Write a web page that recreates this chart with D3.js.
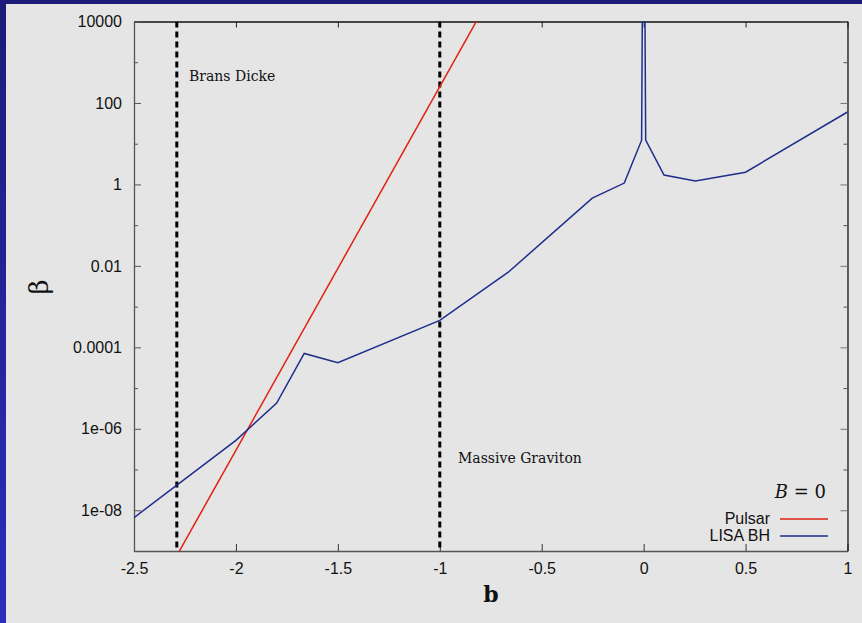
<!DOCTYPE html>
<html>
<head>
<meta charset="utf-8">
<script src="https://cdn.jsdelivr.net/npm/d3@7"></script>
<style>
  html, body { margin: 0; padding: 0; background: #e5e5e5; }
  svg { display: block; }
</style>
</head>
<body>
<svg id="chart" width="862" height="623"></svg>
<script>
// Pulsar bound: straight line in log(beta) vs b
const pulsarB = [-2.4, -0.7];
const pulsarBeta = [8e-11, 1.2e5];

// LISA BH bound
const lisaB = [-2.5, -2.0, -1.8, -1.665, -1.5, -1.0, -0.664, -0.252, -0.095, -0.01, -0.002, 0.002, 0.01, 0.1, 0.254, 0.5, 1.0];
const lisaBeta = [6.6e-9, 5.2e-7, 4.3e-6, 7.1e-5, 4.2e-5, 4.6e-4, 7e-3, 0.46, 1.08, 12.2, 1e8, 1e8, 12.2, 1.7, 1.22, 2.0, 60];

// Vertical reference lines and their labels
const markerB = [-2.29, -1.0];
const markerLabels = ["Brans Dicke", "Massive Graviton"];

const xTicks = [-2.5, -2, -1.5, -1, -0.5, 0, 0.5, 1];
const xTickLabels = ["-2.5", "-2", "-1.5", "-1", "-0.5", "0", "0.5", "1"];
const yMajor = [1e-8, 1e-6, 1e-4, 1e-2, 1, 100, 10000];
const yMajorLabels = ["1e-08", "1e-06", "0.0001", "0.01", "1", "100", "10000"];
const yMinor = [1e-9, 1e-7, 1e-5, 1e-3, 0.1, 10, 1000];

const seriesNames = ["Pulsar", "LISA BH"];
const seriesColors = ["#e02010", "#1f2d8c"];

const svg = d3.select("#chart");
const W = 862, H = 623;
const m = { left: 134, right: 847.5, top: 21.5, bottom: 551 };

// page frame: blue bands on top and left
const defs = svg.append("defs");
const grad = defs.append("linearGradient").attr("id", "side").attr("x1", 0).attr("y1", 0).attr("x2", 0).attr("y2", 1);
grad.append("stop").attr("offset", "0%").attr("stop-color", "#1b1b7a");
grad.append("stop").attr("offset", "100%").attr("stop-color", "#2c2cbc");
svg.append("rect").attr("width", W).attr("height", H).attr("fill", "#e5e5e5");
svg.append("rect").attr("x", 0).attr("y", 0).attr("width", W).attr("height", 4).attr("fill", "#1b1b7a");
svg.append("rect").attr("x", 0).attr("y", 0).attr("width", 6).attr("height", H).attr("fill", "url(#side)");

const x = d3.scaleLinear().domain([-2.5, 1]).range([m.left, m.right]);
const y = d3.scaleLog().domain([1e-9, 1e4]).range([m.bottom, m.top]);

defs.append("clipPath").attr("id", "plot")
  .append("rect").attr("x", m.left).attr("y", m.top)
  .attr("width", m.right - m.left).attr("height", m.bottom - m.top);

const tickFont = "'Liberation Sans', Arial, Helvetica, sans-serif";

// bottom axis
const xAxis = d3.axisBottom(x).tickValues(xTicks)
  .tickFormat((d, i) => xTickLabels[i]).tickSizeInner(-7).tickSizeOuter(0).tickPadding(12);
const gx = svg.append("g").attr("transform", `translate(0,${m.bottom})`).call(xAxis);
gx.select(".domain").attr("stroke", "#555").attr("stroke-width", 1.3);
gx.selectAll(".tick line").attr("stroke", "#333");
gx.selectAll("text").attr("font-family", tickFont).attr("font-size", 16).attr("fill", "#111");

// top mirrored ticks
const xTop = d3.axisTop(x).tickValues(xTicks).tickFormat("").tickSizeInner(-6).tickSizeOuter(0);
const gxt = svg.append("g").attr("transform", `translate(0,${m.top})`).call(xTop);
gxt.select(".domain").attr("stroke", "#111").attr("stroke-width", 1.3);
gxt.selectAll(".tick line").attr("stroke", "#222");

// left axis
const yAxis = d3.axisLeft(y).tickValues(yMajor)
  .tickFormat((d, i) => yMajorLabels[i]).tickSizeInner(-7).tickSizeOuter(0).tickPadding(12);
const gy = svg.append("g").attr("transform", `translate(${m.left},0)`).call(yAxis);
gy.select(".domain").attr("stroke", "#555").attr("stroke-width", 1.3);
gy.selectAll(".tick line").attr("stroke", "#555");
gy.selectAll("text").attr("font-family", tickFont).attr("font-size", 16).attr("fill", "#111");
const yMin = d3.axisLeft(y).tickValues(yMinor).tickFormat("").tickSizeInner(-4).tickSizeOuter(0);
const gym = svg.append("g").attr("transform", `translate(${m.left},0)`).call(yMin);
gym.select(".domain").remove();
gym.selectAll(".tick line").attr("stroke", "#555");

// right mirrored ticks
const yR = d3.axisRight(y).tickValues(yMajor).tickFormat("").tickSizeInner(-7).tickSizeOuter(0);
const gyr = svg.append("g").attr("transform", `translate(${m.right},0)`).call(yR);
gyr.select(".domain").attr("stroke", "#111").attr("stroke-width", 1.3);
gyr.selectAll(".tick line").attr("stroke", "#777");
const yRm = d3.axisRight(y).tickValues(yMinor).tickFormat("").tickSizeInner(-4).tickSizeOuter(0);
const gyrm = svg.append("g").attr("transform", `translate(${m.right},0)`).call(yRm);
gyrm.select(".domain").remove();
gyrm.selectAll(".tick line").attr("stroke", "#555");

const plot = svg.append("g").attr("clip-path", "url(#plot)");

// dashed reference lines
plot.selectAll("line.marker").data(markerB).enter().append("line")
  .attr("class", "marker")
  .attr("x1", d => x(d)).attr("x2", d => x(d))
  .attr("y1", m.top).attr("y2", m.bottom)
  .attr("stroke", "#000").attr("stroke-width", 3).attr("stroke-dasharray", "6,4");

const line = d3.line().x(d => x(d[0])).y(d => y(d[1]));

plot.append("path").datum(pulsarB.map((b, i) => [b, pulsarBeta[i]]))
  .attr("d", line).attr("fill", "none").attr("stroke", seriesColors[0]).attr("stroke-width", 1.5);
plot.append("path").datum(lisaB.map((b, i) => [b, lisaBeta[i]]))
  .attr("d", line).attr("fill", "none").attr("stroke", seriesColors[1]).attr("stroke-width", 1.5)
  .attr("stroke-linejoin", "miter");

// annotations
const serif = "'DejaVu Serif', 'Liberation Serif', serif";
svg.append("text").attr("x", 189).attr("y", 81).text(markerLabels[0])
  .attr("font-family", serif).attr("font-size", 14).attr("fill", "#111");
svg.append("text").attr("x", 458).attr("y", 463).text(markerLabels[1])
  .attr("font-family", serif).attr("font-size", 14).attr("fill", "#111");

// legend
const lg = svg.append("g");
const bTitle = lg.append("text").attr("x", 826).attr("y", 498).attr("text-anchor", "end")
  .attr("font-family", "'DejaVu Serif', serif").attr("font-size", 18).attr("fill", "#111");
bTitle.append("tspan").attr("font-style", "italic").text("B");
bTitle.append("tspan").text(" = 0");
seriesNames.forEach((name, i) => {
  const yy = 519 + i * 17;
  lg.append("text").attr("x", 770).attr("y", yy + 5).attr("text-anchor", "end")
    .attr("font-family", tickFont).attr("font-size", 16).attr("fill", "#111").text(name);
  lg.append("line").attr("x1", 780).attr("x2", 828).attr("y1", yy).attr("y2", yy)
    .attr("stroke", seriesColors[i]).attr("stroke-width", 1.5);
});

// axis titles
svg.append("text").attr("x", 491).attr("y", 602).attr("text-anchor", "middle")
  .attr("font-family", serif).attr("font-weight", "bold").attr("font-size", 22).attr("fill", "#111").text("b");
svg.append("text").attr("transform", "translate(48,287) rotate(-90)").attr("text-anchor", "middle")
  .attr("font-family", serif).attr("font-size", 26).attr("fill", "#111").text("β");
</script>
</body>
</html>
